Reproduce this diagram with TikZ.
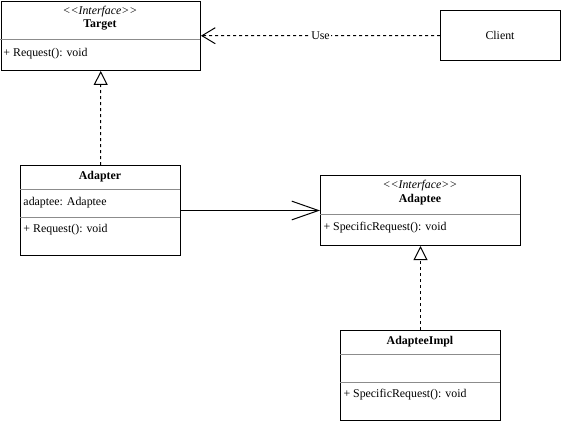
\documentclass[tikz,border=0pt]{standalone}
\usepackage{fontspec}
\setmainfont{Liberation Serif}
\usetikzlibrary{arrows.meta}
\begin{document}
\begin{tikzpicture}[x=0.75pt,y=-0.75pt, line width=0.75pt,
  box/.style={draw, rectangle, inner sep=0pt, anchor=north west},
  sepl/.style={draw=black!45, line width=0.75pt},
  txt/.style={font=\fontsize{8.9}{10}\selectfont, inner sep=0pt},
  ltxt/.style={txt, anchor=west},
  dsh/.style={dash pattern=on 2.25pt off 2.25pt},
  real/.style={dsh, -{Triangle[open,length=10.5pt,width=10.5pt]}},
  use/.style={dsh, -{Straight Barb[length=10pt,width=12pt]}},
  assoc/.style={-{Straight Barb[length=20pt,width=14pt]}}]
\useasboundingbox (0,0) rectangle (561,421);
% Target
\node[box, minimum width=149.6pt, minimum height=52.1pt] (target) at (0.5,0.5) {};
\node[txt] (targetst) at (100,12) {\textit{{<}{<}Interface{>}{>}}};
\node[txt] (targetnm) at (100,25) {\textbf{Target}};
\draw[sepl] (0.5,39) -- (200,39);
\node[ltxt] (targetop) at (3,54) {+ Request(): void};
% Client
\node[box, minimum width=90pt, minimum height=37.5pt] (client) at (440,10) {};
\node[txt] (clientnm) at (500,35) {Client};
% Adapter
\node[box, minimum width=120pt, minimum height=67.5pt] (adapter) at (20,165) {};
\node[txt] (adapternm) at (100,177) {\textbf{Adapter}};
\draw[sepl] (20,189) -- (180,189);
\node[ltxt] (adapterat) at (23,203) {adaptee: Adaptee};
\draw[sepl] (20,217) -- (180,217);
\node[ltxt] (adapterop) at (23,230) {+ Request(): void};
% Adaptee
\node[box, minimum width=150pt, minimum height=52.5pt] (adaptee) at (320,175) {};
\node[txt] (adapteest) at (420,186) {\textit{{<}{<}Interface{>}{>}}};
\node[txt] (adapteenm) at (420,200) {\textbf{Adaptee}};
\draw[sepl] (320,214) -- (520,214);
\node[ltxt] (adapteeop) at (323,228) {+ SpecificRequest(): void};
% AdapteeImpl
\node[box, minimum width=120pt, minimum height=67.5pt] (impl) at (340,330) {};
\node[txt] (implnm) at (420,342) {\textbf{AdapteeImpl}};
\draw[sepl] (340,354) -- (500,354);
\draw[sepl] (340,382) -- (500,382);
\node[ltxt] (implop) at (343,395) {+ SpecificRequest(): void};
% Connectors
\draw[use] (client.west) -- (target.east)
  node[midway, fill=white, txt, inner xsep=1pt] (uselbl) {Use};
\draw[real] (adapter.north) -- (target.south);
\draw[assoc] (adapter.east) -- (adaptee.west);
\draw[real] (impl.north) -- (adaptee.south);
\end{tikzpicture}
\end{document}
